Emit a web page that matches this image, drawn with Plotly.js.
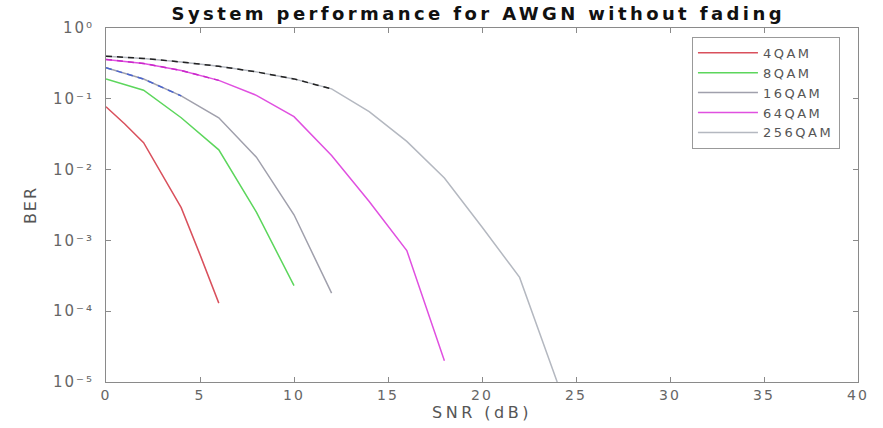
<!DOCTYPE html>
<html>
<head>
<meta charset="utf-8">
<script src="https://cdn.plot.ly/plotly-3.0.1.min.js"></script>
<style>
  html, body { margin: 0; padding: 0; background: #fff; }
  #chart { width: 883px; height: 428px; }
  .gtitle { letter-spacing: 3.4px; }
  .xtick text, .ytick text { letter-spacing: 2px; }
  .xtitle { letter-spacing: 3.5px; }
  .ytitle { letter-spacing: 2px; }
  .legendtext { letter-spacing: 2.5px; }
</style>
</head>
<body>
<div id="chart"></div>
<script>
// ---- data ----
const seriesNames = ["4QAM", "8QAM", "16QAM", "64QAM", "256QAM"];

const snr4QAM = [0, 1, 2, 3, 4, 5, 6];
const ber4QAM = [0.077, 0.044, 0.024, 0.0085, 0.0029, 0.00063, 0.00013];

const snr8QAM = [0, 2, 4, 6, 8, 10];
const ber8QAM = [0.19, 0.132, 0.054, 0.019, 0.0025, 0.00023];

const snr16QAM = [0, 2, 4, 6, 8, 10, 12];
const ber16QAM = [0.275, 0.19, 0.11, 0.054, 0.015, 0.0023, 0.00018];

const snr64QAM = [0, 2, 4, 6, 8, 10, 12, 14, 16, 18];
const ber64QAM = [0.36, 0.316, 0.251, 0.182, 0.112, 0.056, 0.0158, 0.00355, 0.00072, 0.00002];

const snr256QAM = [0, 2, 4, 6, 8, 10, 12, 14, 16, 18, 20, 22, 24];
const ber256QAM = [0.40, 0.372, 0.331, 0.288, 0.240, 0.191, 0.138, 0.066, 0.025, 0.0076, 0.00155, 0.0003, 0.00001];

const yTickVals = [1e-5, 1e-4, 1e-3, 1e-2, 1e-1, 1];
const yTickText = ["10\u207B\u2075", "10\u207B\u2074", "10\u207B\u00B3", "10\u207B\u00B2", "10\u207B\u00B9", "10\u2070"];
const xTickVals = [0, 5, 10, 15, 20, 25, 30, 35, 40];

// ---- styling ----
const colors = ["#d9505c", "#5cd65c", "#a0a0ac", "#e050e0", "#b4b8c0"];
const xs = [snr4QAM, snr8QAM, snr16QAM, snr64QAM, snr256QAM];
const ys = [ber4QAM, ber8QAM, ber16QAM, ber64QAM, ber256QAM];

const traces = seriesNames.map((name, i) => ({
  x: xs[i], y: ys[i], name: name, type: "scatter", mode: "lines",
  line: { color: colors[i], width: 1.5 }
}));

// dashed overlays seen at the start of three curves
const overlays = [
  { idx: 2, n: 3, color: "#4a64d0" },
  { idx: 3, n: 4, color: "#c828c8" },
  { idx: 4, n: 7, color: "#222222" }
];
overlays.forEach(o => {
  traces.push({
    x: xs[o.idx].slice(0, o.n), y: ys[o.idx].slice(0, o.n),
    type: "scatter", mode: "lines", showlegend: false, hoverinfo: "skip",
    line: { color: o.color, width: 1.5, dash: "6px,5px" }
  });
});

const fontFam = "DejaVu Sans, sans-serif";
const axisCommon = {
  showgrid: false, zeroline: false, showline: true, linecolor: "#8a8a8a", linewidth: 1,
  mirror: "ticks", ticks: "inside", ticklen: 5, tickcolor: "#8a8a8a",
  tickfont: { family: fontFam, size: 14, color: "#666" }
};

const layout = {
  width: 883, height: 428,
  margin: { l: 106, r: 25, t: 28, b: 46 },
  paper_bgcolor: "#fff", plot_bgcolor: "#fff",
  title: {
    text: "System performance for AWGN without fading",
    font: { family: fontFam, size: 18, color: "#111", weight: "bold" },
    x: 0.495, xref: "paper", y: 0.967, yref: "container", yanchor: "middle"
  },
  xaxis: Object.assign({}, axisCommon, {
    range: [0, 40], tickvals: xTickVals,
    title: { text: "SNR (dB)", font: { family: fontFam, size: 16, color: "#555" }, standoff: 2 }
  }),
  yaxis: Object.assign({}, axisCommon, {
    type: "log", range: [-5, 0], tickvals: yTickVals, ticktext: yTickText,
    ticklabelstandoff: 8,
    tickfont: { family: fontFam, size: 15, color: "#666" },
    title: { text: "BER", font: { family: fontFam, size: 16, color: "#555" }, standoff: 12 }
  }),
  legend: {
    x: 0.976, y: 0.975, xanchor: "right", yanchor: "top",
    bgcolor: "#fff", bordercolor: "#999", borderwidth: 1,
    font: { family: fontFam, size: 13, color: "#555" },
    tracegroupgap: 0, itemwidth: 60
  },
  showlegend: true
};

Plotly.newPlot("chart", traces, layout, { displayModeBar: false, staticPlot: true });
</script>
</body>
</html>
